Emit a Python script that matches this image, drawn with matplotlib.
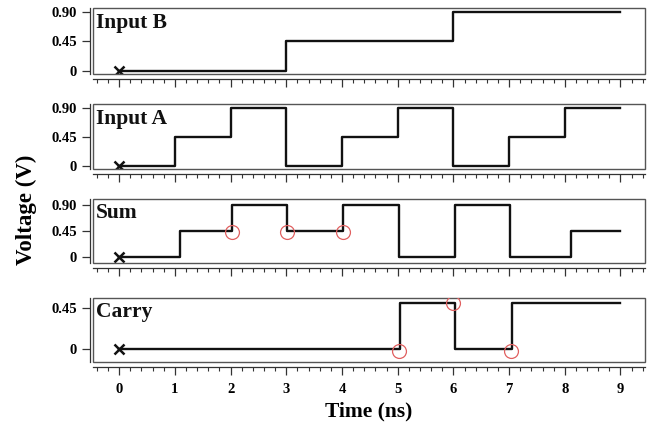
import matplotlib
matplotlib.use("Agg")
import matplotlib.pyplot as plt
from matplotlib.ticker import MultipleLocator, FixedLocator
from matplotlib.patches import Rectangle

# ---- data ----
panel_names = ["Input B", "Input A", "Sum", "Carry"]

b_t = [0, 3.0, 6.0, 9.0]
b_v = [0, 0.45, 0.90, 0.90]

a_t = [0, 1.0, 2.0, 3.0, 4.0, 5.0, 6.0, 7.0, 8.0, 9.0]
a_v = [0, 0.45, 0.90, 0, 0.45, 0.90, 0, 0.45, 0.90, 0.90]

s_t = [0, 1.1, 2.03, 3.01, 4.02, 5.03, 6.03, 7.02, 8.11, 9.0]
s_v = [0, 0.45, 0.90, 0.45, 0.90, 0, 0.90, 0, 0.45, 0.45]

c_t = [0, 5.05, 6.02, 7.05, 9.0]
c_v = [0, 0.51, 0, 0.51, 0.51]

sum_circ_t = [2.03, 3.01, 4.02]
sum_circ_v = [0.42, 0.42, 0.42]
carry_circ_t = [5.03, 6.0, 7.03]
carry_circ_v = [-0.02, 0.50, -0.02]

ytick_vals = [[0, 0.45, 0.90], [0, 0.45, 0.90], [0, 0.45, 0.90], [0, 0.45]]
ytick_labels = [["0", "0.45", "0.90"], ["0", "0.45", "0.90"],
                ["0", "0.45", "0.90"], ["0", "0.45"]]
xtick_vals = [0, 1, 2, 3, 4, 5, 6, 7, 8, 9]
xtick_labels = ["0", "1", "2", "3", "4", "5", "6", "7", "8", "9"]

series = [(b_t, b_v), (a_t, a_v), (s_t, s_v), (c_t, c_v)]

# ---- layout ----
W, H = 656, 425
fig = plt.figure(figsize=(W / 100, H / 100), dpi=100)
plt.rcParams['font.family'] = ['Liberation Serif', 'DejaVu Serif']
plt.rcParams['font.weight'] = 'bold'

boxes = [(8, 74), (104, 169), (199, 263), (298, 362)]
ylims = [(-0.046, 0.96), (-0.05, 0.97), (-0.11, 1.0), (-0.14, 0.56)]
x0, x1 = 93, 645

for i, ((top, bot), name, (t, v)) in enumerate(zip(boxes, panel_names, series)):
    ax = fig.add_axes([x0 / W, 1 - bot / H, (x1 - x0) / W, (bot - top) / H])
    ax.set_xlim(-0.47, 9.44)
    ax.set_ylim(*ylims[i])
    for s in ("top", "right"):
        ax.spines[s].set_visible(False)
    ax.spines["left"].set_position(("outward", 2.2))
    ax.spines["bottom"].set_position(("outward", 3.8))
    for s in ("left", "bottom"):
        ax.spines[s].set_linewidth(0.9)
        ax.spines[s].set_color("#333333")
    ax.add_patch(Rectangle((0, 0), 1, 1, transform=ax.transAxes, fill=False,
                           lw=1.0, ec="#555555", clip_on=False, zorder=5))
    ax.patch.set_visible(False)

    ax.step(t, v, where="post", color="#111111", lw=1.7, zorder=3)
    ax.plot([0], [0], marker="x", color="#111111", ms=7, mew=1.8, zorder=4)

    ax.xaxis.set_major_locator(FixedLocator(xtick_vals))
    ax.xaxis.set_minor_locator(MultipleLocator(0.2))
    ax.tick_params(axis="x", which="major", direction="out", length=6, width=0.9,
                   color="#333333")
    ax.tick_params(axis="x", which="minor", direction="out", length=3, width=0.8,
                   color="#333333")
    if i == 3:
        ax.set_xticklabels(xtick_labels, fontsize=10.5, fontweight="bold")
        ax.tick_params(axis="x", which="major", pad=5)
    else:
        ax.set_xticklabels([])

    ax.set_yticks(ytick_vals[i])
    ax.set_yticklabels(ytick_labels[i], fontsize=10.5, fontweight="bold")
    ax.tick_params(axis="y", which="major", direction="out", length=5.5, width=0.9,
                   pad=4, color="#333333")

    ax.text(0.006, 0.93, name, transform=ax.transAxes, ha="left", va="top",
            fontsize=15.5, fontweight="bold", color="#111111")

    if i == 2:
        ax.plot(sum_circ_t, sum_circ_v, ls="none", marker="o", ms=10, mfc="none",
                mec="#e06060", mew=0.9, zorder=6)
    if i == 3:
        ax.plot(carry_circ_t, carry_circ_v, ls="none", marker="o", ms=10, mfc="none",
                mec="#e06060", mew=0.9, zorder=6)
        ax.set_xlabel("Time (ns)", fontsize=15.5, fontweight="bold", labelpad=4)

fig.text(26 / W, 1 - 210 / H, "Voltage (V)", rotation=90, ha="center", va="center",
         fontsize=16.5, fontweight="bold")

fig.savefig("out.png", dpi=100, facecolor="white")
